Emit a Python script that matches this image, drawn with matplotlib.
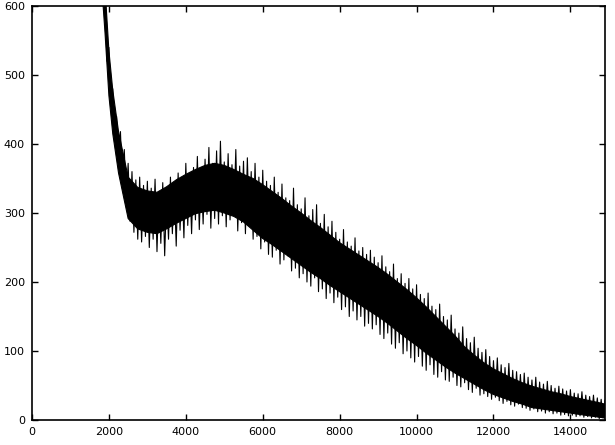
import numpy as np
import matplotlib.pyplot as plt

# solid core of the noisy spectrum
x_core = [1800, 1900, 2000, 2100, 2250, 2500, 2750, 3000, 3250, 3500,
          3750, 4000, 4250, 4500, 4750, 5000, 5250, 5500, 5750, 6000,
          6250, 6500, 6750, 7000, 7250, 7500, 7750, 8000, 8250, 8500,
          8750, 9000, 9250, 9500, 9750, 10000, 10250, 10500, 10750, 11000,
          11250, 11500, 11750, 12000, 12250, 12500, 12750, 13000, 13250, 13500,
          13750, 14000, 14250, 14500, 14750, 14900]
core_lo = [640, 560, 470, 415, 358, 292, 277, 272, 270, 277,
           285, 292, 299, 302, 304, 300, 295, 287, 275, 263,
           254, 244, 234, 224, 214, 205, 195, 186, 177, 168,
           159, 150, 140, 129, 118, 108, 97, 87, 77, 68,
           60, 52, 44, 37, 32, 27, 23, 18, 16, 14,
           12, 10, 8, 6, 4, 3]
core_hi = [720, 625, 535, 478, 418, 352, 337, 332, 330, 338,
           348, 356, 363, 369, 372, 369, 363, 356, 350, 341,
           331, 321, 310, 300, 289, 279, 268, 257, 248, 239,
           230, 221, 211, 200, 189, 177, 164, 150, 136, 122,
           106, 94, 83, 74, 67, 60, 54, 49, 45, 41,
           38, 34, 31, 28, 25, 23]

# noise peaks (every 100 channels) and dips (offset by 50)
x_peak = list(range(1800, 15000, 100))
peak = [720, 625, 540, 480, 440, 418, 392, 372, 360, 348,
        352, 340, 346, 336, 349, 331, 344, 327, 352, 338,
        358, 349, 372, 355, 366, 382, 360, 378, 395, 372,
        390, 404, 374, 386, 370, 392, 368, 375, 380, 360,
        372, 352, 362, 346, 340, 352, 330, 342, 322, 318,
        336, 312, 306, 322, 296, 305, 312, 285, 298, 280,
        288, 272, 262, 276, 258, 252, 264, 245, 250, 240,
        246, 236, 228, 238, 222, 215, 226, 205, 212, 198,
        205, 190, 196, 182, 176, 184, 165, 160, 168, 150,
        145, 152, 132, 126, 135, 118, 112, 120, 104, 98,
        102, 92, 86, 90, 80, 76, 82, 72, 70, 66,
        68, 62, 58, 62, 55, 52, 56, 50, 46, 49,
        45, 42, 44, 39, 38, 41, 36, 34, 36, 32,
        30, 29]
x_dip = list(range(1850, 15000, 100))
dip = [600, 520, 455, 405, 372, 345, 318, 288, 272, 262,
       258, 266, 250, 262, 244, 256, 238, 262, 270, 252,
       275, 264, 282, 270, 290, 276, 284, 298, 278, 292,
       284, 296, 280, 290, 300, 274, 286, 270, 282, 262,
       266, 248, 258, 240, 236, 246, 226, 232, 238, 216,
       220, 206, 212, 200, 194, 206, 186, 190, 176, 184,
       170, 178, 160, 164, 150, 158, 145, 150, 136, 140,
       132, 138, 124, 118, 126, 110, 104, 112, 96, 100,
       90, 84, 92, 78, 72, 80, 66, 62, 70, 58,
       56, 62, 50, 48, 54, 44, 40, 46, 36, 38,
       34, 30, 33, 28, 24, 27, 22, 20, 23, 18,
       17, 14, 16, 12, 13, 10, 12, 9, 10, 7,
       8, 6, 7, 5, 6, 4, 5, 3, 4, 2,
       3, 2]

xticks = [0, 2000, 4000, 6000, 8000, 10000, 12000, 14000]
yticks = [0, 100, 200, 300, 400, 500, 600]

# one trace, peaks and dips in channel order
sig = sorted(zip(x_peak + x_dip, peak + dip))
x_sig = [p[0] for p in sig]
y_sig = [p[1] for p in sig]

fig = plt.figure(figsize=(6.15, 4.45), dpi=100)
ax = fig.add_axes([32 / 615, 25 / 445, 573 / 615, 414 / 445])

ax.fill_between(x_core, core_lo, core_hi, color="black", linewidth=0.8, edgecolor="black")
ax.plot(x_sig, y_sig, color="black", linewidth=0.8)

ax.set_xlim(0, 14900)
ax.set_ylim(0, 600)
ax.set_xticks(xticks)
ax.set_yticks(yticks)
ax.tick_params(direction="in", length=4, width=1, top=True, right=True,
               labelsize=8, pad=5)
for s in ax.spines.values():
    s.set_linewidth(1.2)

plt.savefig("out.png", dpi=100)
